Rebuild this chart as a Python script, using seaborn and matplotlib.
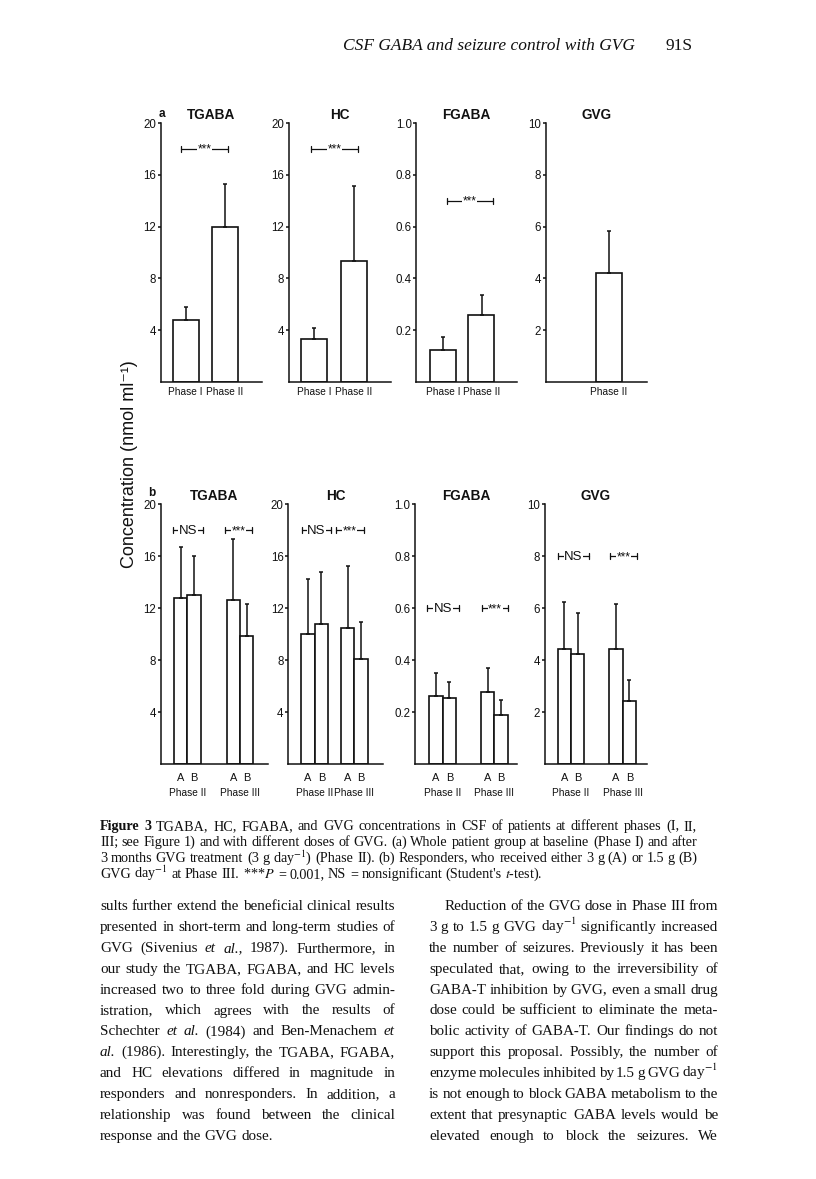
import numpy as np
import pandas as pd
import matplotlib.pyplot as plt
from matplotlib.transforms import IdentityTransform
import seaborn as sns

# ---------------------------------------------------------
# Values (mean and SD, nmol/ml)
# ---------------------------------------------------------
analytes = ["TGABA", "HC", "FGABA", "GVG"]
phases_a = ["Phase I", "Phase II"]
phases_b = ["Phase II", "Phase III"]
doses = ["A", "B"]

# (a) whole patient group, Phase I vs Phase II (GVG not present at Phase I)
a_tgaba = [4.8, 12.0]
a_tgaba_sd = [1.0, 3.3]
a_hc = [3.3, 9.35]
a_hc_sd = [0.9, 5.75]
a_fgaba = [0.125, 0.26]
a_fgaba_sd = [0.05, 0.075]
a_gvg = [np.nan, 4.22]
a_gvg_sd = [np.nan, 1.6]

# (b) responders; rows are A/Phase II, B/Phase II, A/Phase III, B/Phase III
b_phase = ["Phase II", "Phase II", "Phase III", "Phase III"]
b_dose = ["A", "B", "A", "B"]
b_tgaba = [12.75, 13.05, 12.65, 9.85]
b_tgaba_sd = [3.95, 3.0, 4.65, 2.45]
b_hc = [10.0, 10.75, 10.45, 8.1]
b_hc_sd = [4.25, 4.0, 4.8, 2.85]
b_fgaba = [0.263, 0.253, 0.277, 0.19]
b_fgaba_sd = [0.089, 0.064, 0.092, 0.057]
b_gvg = [4.44, 4.23, 4.44, 2.43]
b_gvg_sd = [1.81, 1.59, 1.73, 0.82]

y_max = [20, 20, 1.0, 10]
y_ticks = [[4, 8, 12, 16, 20], [4, 8, 12, 16, 20],
           [0.2, 0.4, 0.6, 0.8, 1.0], [2, 4, 6, 8, 10]]

# significance brackets: (x0, x1, y, label) in category units
sig_a = [[(-0.11, 1.07, 18, "***")], [(-0.08, 1.10, 18, "***")],
         [(0.10, 1.30, 0.7, "***")], []]
sig_b = [[(-0.28, 0.30, 18, "NS"), (0.72, 1.22, 18, "***")],
         [(-0.33, 0.41, 18, "NS"), (0.54, 1.24, 18, "***")],
         [(-0.31, 0.32, 0.6, "NS"), (0.76, 1.27, 0.6, "***")],
         [(-0.25, 0.35, 8, "NS"), (0.75, 1.28, 8, "***")]]

# ---------------------------------------------------------
# Page text
# ---------------------------------------------------------
caption = [
    "#Figure #3 TGABA, HC, FGABA, and GVG concentrations in CSF of patients at different phases (I, II,",
    "III; see Figure 1) and with different doses of GVG. (a) Whole patient group at baseline (Phase I) and after",
    "3 months GVG treatment (3 g day$^{-1}$) (Phase II). (b) Responders, who received either 3 g (A) or 1.5 g (B)",
    "GVG day$^{-1}$ at Phase III. ***$P$ = 0.001, NS = nonsignificant (Student's $t$-test).",
]
left_col = [
    "sults further extend the beneficial clinical results",
    "presented in short-term and long-term studies of",
    "GVG (Sivenius |et |al., 1987). Furthermore, in",
    "our study the TGABA, FGABA, and HC levels",
    "increased two to three fold during GVG admin-",
    "istration, which agrees with the results of",
    "Schechter |et |al. (1984) and Ben-Menachem |et",
    "|al. (1986). Interestingly, the TGABA, FGABA,",
    "and HC elevations differed in magnitude in",
    "responders and nonresponders. In addition, a",
    "relationship was found between the clinical",
    "response and the GVG dose.",
]
right_col = [
    "Reduction of the GVG dose in Phase III from",
    "3 g to 1.5 g GVG day$^{-1}$ significantly increased",
    "the number of seizures. Previously it has been",
    "speculated that, owing to the irreversibility of",
    "GABA-T inhibition by GVG, even a small drug",
    "dose could be sufficient to eliminate the meta-",
    "bolic activity of GABA-T. Our findings do not",
    "support this proposal. Possibly, the number of",
    "enzyme molecules inhibited by 1.5 g GVG day$^{-1}$",
    "is not enough to block GABA metabolism to the",
    "extent that presynaptic GABA levels would be",
    "elevated enough to block the seizures. We",
]

# ---------------------------------------------------------
# Style
# ---------------------------------------------------------
sns.set_theme(style="ticks")
SANS = ["Liberation Sans", "DejaVu Sans"]
SERIF = ["Liberation Serif", "DejaVu Serif"]
INK = "#111111"
plt.rcParams.update({
    "font.family": SANS,
    "axes.edgecolor": INK,
    "axes.linewidth": 1.1,
    "xtick.color": INK,
    "ytick.color": INK,
    "text.color": INK,
    "mathtext.fontset": "stix",
})

W, H = 816, 1179
fig = plt.figure(figsize=(W / 100, H / 100), dpi=100)
fig.patch.set_facecolor("white")
PIX = IdentityTransform()


def px_axes(left, right, top, bottom):
    return fig.add_axes([left / W, 1 - bottom / H, (right - left) / W, (bottom - top) / H])


def fit_x(ax, box, cent):
    unit = cent[1] - cent[0]
    ax.set_xlim(-(cent[0] - box[0]) / unit, 1 + (box[1] - cent[1]) / unit)


def style_y(ax, i):
    ax.set_ylim(0, y_max[i])
    ax.set_yticks(y_ticks[i])
    if y_max[i] < 2:
        ax.set_yticklabels([f"{t:.1f}" for t in y_ticks[i]])
    else:
        ax.set_yticklabels([f"{t:d}" for t in y_ticks[i]])
    ax.tick_params(axis="y", direction="out", length=2.2, width=1.1, pad=1.2, labelsize=8.3)
    ax.set_xlabel("")
    ax.set_ylabel("")
    sns.despine(ax=ax)


def bracket(ax, x0, x1, y, label, ymax):
    d = 0.012 * ymax
    ax.plot([x0, x1], [y, y], color=INK, lw=0.9)
    ax.plot([x0, x0], [y - d, y + d], color=INK, lw=0.9)
    ax.plot([x1, x1], [y - d, y + d], color=INK, lw=0.9)
    size = 9.5 if label == "NS" else 8.5
    ax.text((x0 + x1) / 2, y - 0.004 * ymax, label, ha="center", va="center", fontsize=size,
            bbox=dict(facecolor="white", edgecolor="none", pad=0.4))


# ---------------------------------------------------------
# Panel (a)
# ---------------------------------------------------------
a_vals = [a_tgaba, a_hc, a_fgaba, a_gvg]
a_sds = [a_tgaba_sd, a_hc_sd, a_fgaba_sd, a_gvg_sd]
a_boxes = [(161, 262), (289, 391), (416.5, 517), (545.5, 647)]
a_cent = [(185.5, 225), (314, 353.8), (442.8, 481.5), (569, 608.7)]

for i, name in enumerate(analytes):
    ax = px_axes(a_boxes[i][0], a_boxes[i][1], 123, 382)
    df = pd.DataFrame({"phase": phases_a, "value": a_vals[i], "sd": a_sds[i]}).dropna()
    unit = a_cent[i][1] - a_cent[i][0]
    sns.barplot(data=df, x="phase", y="value", order=phases_a, width=26 / unit,
                color="white", saturation=1, edgecolor=INK, linewidth=1.2,
                errorbar=None, ax=ax)
    xs = [p.get_x() + p.get_width() / 2 for p in ax.patches]
    ys = [p.get_height() for p in ax.patches]
    sds = df["sd"].tolist()
    ax.errorbar(xs, ys, yerr=[np.zeros(len(sds)), sds], fmt="none", ecolor=INK,
                elinewidth=1.1, capsize=1.6, capthick=1.1, zorder=3)
    fit_x(ax, a_boxes[i], a_cent[i])
    style_y(ax, i)
    ax.set_xticks(range(len(phases_a)))
    ax.set_xticklabels(["" if np.isnan(v) else p for p, v in zip(phases_a, a_vals[i])])
    ax.tick_params(axis="x", length=0, pad=3.5, labelsize=7.3)
    ax.set_title(name, fontsize=9.8, fontweight="bold", pad=3)
    for x0, x1, y, lab in sig_a[i]:
        bracket(ax, x0, x1, y, lab, y_max[i])

# ---------------------------------------------------------
# Panel (b)
# ---------------------------------------------------------
b_vals = [b_tgaba, b_hc, b_fgaba, b_gvg]
b_sds = [b_tgaba_sd, b_hc_sd, b_fgaba_sd, b_gvg_sd]
b_boxes = [(161, 268), (288.3, 383.3), (415, 517.3), (545, 646.7)]
b_cent = [(187.3, 240), (314.7, 354.3), (442.7, 494.3), (571, 622.7)]

for i, name in enumerate(analytes):
    ax = px_axes(b_boxes[i][0], b_boxes[i][1], 504.3, 764)
    df = pd.DataFrame({"phase": b_phase, "dose": b_dose, "value": b_vals[i], "sd": b_sds[i]})
    unit = b_cent[i][1] - b_cent[i][0]
    sns.barplot(data=df, x="phase", y="value", hue="dose", order=phases_b,
                hue_order=doses, palette=["white", "white"], saturation=1,
                width=2 * 13.3 / unit, edgecolor=INK, linewidth=1.2,
                errorbar=None, legend=False, ax=ax)
    xs, ys, sds, labs = [], [], [], []
    for k, cont in enumerate(ax.containers):
        for j, p in enumerate(cont.patches):
            row = df[(df["dose"] == doses[k]) & (df["phase"] == phases_b[j])].iloc[0]
            xs.append(p.get_x() + p.get_width() / 2)
            ys.append(p.get_height())
            sds.append(row["sd"])
            labs.append(doses[k])
    ax.errorbar(xs, ys, yerr=[np.zeros(len(sds)), sds], fmt="none", ecolor=INK,
                elinewidth=1.1, capsize=1.6, capthick=1.1, zorder=3)
    fit_x(ax, b_boxes[i], b_cent[i])
    style_y(ax, i)
    ax.set_xticks(range(len(phases_b)))
    ax.set_xticklabels(phases_b)
    ax.set_xticks(xs, labels=labs, minor=True)
    ax.tick_params(axis="x", which="major", length=0, pad=17, labelsize=7.3)
    ax.tick_params(axis="x", which="minor", length=0, pad=6.5, labelsize=7.9)
    ax.set_title(name, fontsize=9.8, fontweight="bold", pad=3)
    for x0, x1, y, lab in sig_b[i]:
        bracket(ax, x0, x1, y, lab, y_max[i])

fig.text(161.5, H - 114, "a", fontsize=8.5, fontweight="bold", ha="center", va="center", transform=PIX)
fig.text(152, H - 493, "b", fontsize=8.5, fontweight="bold", ha="center", va="center", transform=PIX)
fig.text(129, H - 464, "Concentration (nmol ml⁻¹)", fontsize=13, rotation=90,
         ha="center", va="center", transform=PIX)

# ---------------------------------------------------------
# Running head, caption and body text (justified lines)
# ---------------------------------------------------------
renderer = fig.canvas.get_renderer()


def make_words(line, x0, ybase, size):
    arts = []
    for w in line.split():
        style, weight = "normal", "normal"
        if w.startswith("|"):
            w, style = w[1:], "italic"
        elif w.startswith("#"):
            w, weight = w[1:], "bold"
        arts.append(fig.text(x0, H - ybase, w, fontsize=size, family=SERIF, fontstyle=style,
                             fontweight=weight, va="baseline", ha="left", transform=PIX,
                             math_fontfamily="stix"))
    return arts


def natural_width(line, size):
    arts = make_words(line, 0, -100, size)
    wd = sum(t.get_window_extent(renderer).width for t in arts)
    for t in arts:
        t.remove()
    return wd + (len(arts) - 1) * 0.25 * size * 100 / 72


def fit_size(line, width, guess=10.0):
    return guess * width / natural_width(line, guess)


def put_line(line, x0, x1, ybase, size, justify=True):
    arts = make_words(line, x0, ybase, size)
    widths = [t.get_window_extent(renderer).width for t in arts]
    if justify and len(arts) > 1:
        gap = (x1 - x0 - sum(widths)) / (len(arts) - 1)
    else:
        gap = 0.25 * size * 100 / 72
    x = x0
    for t, wd in zip(arts, widths):
        t.set_x(x)
        x += wd + gap


fig.text(343, H - 50, "CSF GABA and seizure control with GVG", fontsize=12.5,
         family=SERIF, fontstyle="italic", va="baseline", transform=PIX)
fig.text(666, H - 50, "91S", fontsize=12.5, family=SERIF, va="baseline", transform=PIX)

cap_size = fit_size(caption[1], 697 - 100)
for k, line in enumerate(caption):
    put_line(line, 100, 697, 830 + 16 * k, cap_size, justify=k < len(caption) - 1)

body_size = fit_size(left_col[0], 395 - 100)
for k, line in enumerate(left_col):
    put_line(line, 100, 395, 910 + 20.9 * k, body_size, justify=k < len(left_col) - 1)

for k, line in enumerate(right_col):
    x0 = 445 if k == 0 else 429
    put_line(line, x0, 718, 910 + 20.9 * k, body_size, justify=True)

fig.savefig("out.png", dpi=100, facecolor="white")
